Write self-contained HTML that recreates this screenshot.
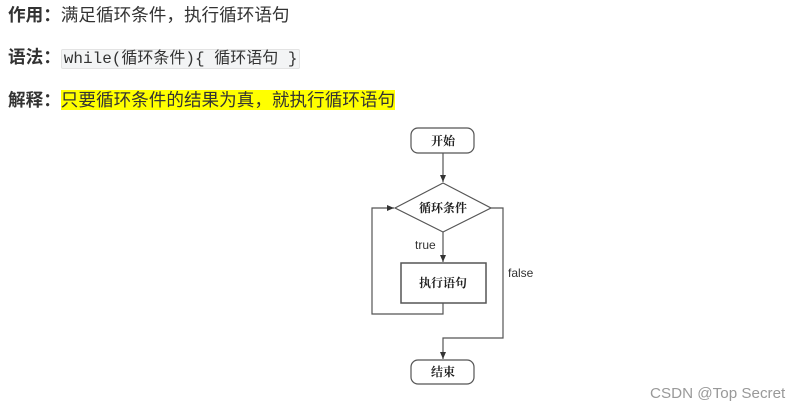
<!DOCTYPE html>
<html><head><meta charset="utf-8"><style>
body{margin:0;width:802px;height:410px;background:#fff;position:relative;overflow:hidden;font-family:"Liberation Sans","Noto Sans CJK SC",sans-serif;color:#333;}
.l{position:absolute;left:8px;font-size:17.6px;line-height:24px;white-space:nowrap}
b{color:#333}
code{font-family:"Liberation Mono","Noto Sans CJK SC",monospace;background:#f3f4f5;border:1px solid #e3e3e3;border-radius:2px;font-size:16px;padding:0 2px;color:#333}
.hl{background:#ff0;color:#333}
</style></head><body>
<div class="l" style="top:3px"><b>作用：</b>满足循环条件，执行循环语句</div>
<div class="l" style="top:45px"><b>语法：</b><code>while(循环条件){ 循环语句 }</code></div>
<div class="l" style="top:88px"><b>解释：</b><span class="hl">只要循环条件的结果为真，就执行循环语句</span></div>
<svg style="position:absolute;left:0;top:0" width="802" height="410">
<defs><marker id="a" markerWidth="8" markerHeight="8" refX="7" refY="4" orient="auto" markerUnits="userSpaceOnUse"><path d="M0,1 L7,4 L0,7z" fill="#333"/></marker></defs>
<g fill="none" stroke="#555" stroke-width="1.2">
<rect x="411" y="128" width="63" height="25" rx="7"/>
<polygon points="395,208 443,183 491,208 443,232"/>
<rect x="401" y="263" width="85" height="40" stroke-width="1.5"/>
<rect x="411" y="360" width="63" height="24" rx="7"/>
<line x1="443" y1="153" x2="443" y2="182" marker-end="url(#a)"/>
<line x1="443" y1="232" x2="443" y2="262" marker-end="url(#a)"/>
<polyline points="443,303 443,314 372,314 372,208 394,208" marker-end="url(#a)"/>
<polyline points="491,208 503,208 503,338 443,338 443,359" marker-end="url(#a)"/>
</g>
<g font-family="Liberation Serif,Noto Serif CJK SC,serif" font-weight="bold" font-size="12" fill="#222" text-anchor="middle">
<text x="443" y="145">开始</text>
<text x="443" y="212">循环条件</text>
<text x="443" y="287">执行语句</text>
<text x="443" y="376">结束</text>
</g>
<g font-family="Liberation Sans,sans-serif" font-size="12" fill="#333">
<text x="415" y="249">true</text>
<text x="508" y="277">false</text>
</g>
<text x="650" y="398" font-family="Liberation Sans,sans-serif" font-size="15.2" fill="#999">CSDN @Top Secret</text>
</svg>
</body></html>
